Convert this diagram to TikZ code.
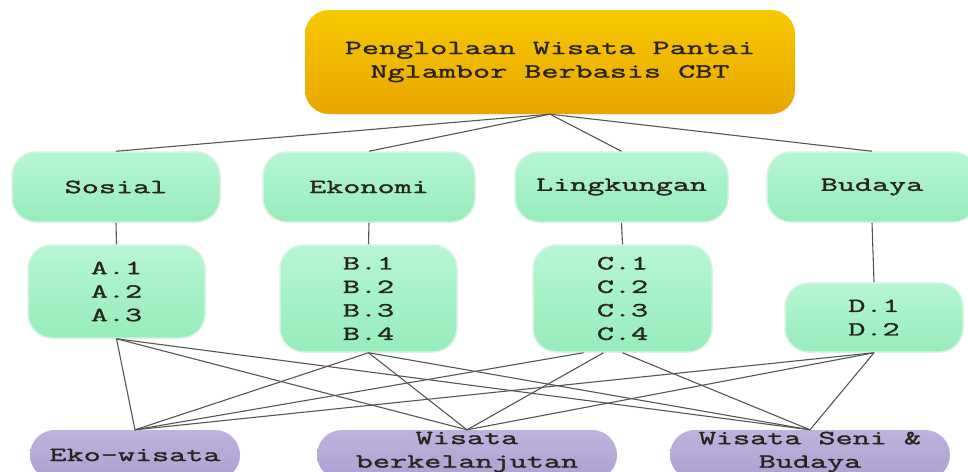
\documentclass[tikz,border=0pt]{standalone}
\usepackage{fontspec}
\newfontfamily\diagfont{Latin Modern Mono}[FakeStretch=1.66, FakeBold=1.6]
\definecolor{linegray}{RGB}{85,85,85}
\definecolor{txt}{RGB}{40,36,30}
\definecolor{orangetop}{RGB}{248,200,0}
\definecolor{orangebot}{RGB}{232,166,0}
\definecolor{greentop}{RGB}{182,246,210}
\definecolor{greenbot}{RGB}{150,236,186}
\definecolor{greenhalo}{RGB}{214,242,226}
\definecolor{purpletop}{RGB}{190,178,222}
\definecolor{purplebot}{RGB}{172,160,208}
\tikzset{
  box/.style={rectangle, rounded corners=24pt, inner sep=0pt, align=center,
    text=txt, font=\diagfont\fontsize{20}{23.5}\selectfont},
  titlebox/.style={box, top color=orangetop, bottom color=orangebot},
  aspect/.style={box, top color=greentop, bottom color=greenbot,
    draw=greenhalo, line width=1.5pt},
  goal/.style={box, rounded corners=25pt, top color=purpletop, bottom color=purplebot},
  link/.style={draw=linegray, line width=1.1pt}
}
\begin{document}
\begin{tikzpicture}[x=1pt,y=-1pt]
\useasboundingbox (0,0) rectangle (968,471);
\fill[white] (0,0) rectangle (968,471);
\clip (0,0) rectangle (968,471);

% top-level goal
\node[titlebox, minimum width=490pt, minimum height=104pt] (top) at (550,62)
  {Penglolaan Wisata Pantai\\Nglambor Berbasis CBT};

% four aspects
\node[aspect, minimum width=208pt, minimum height=70pt] (sos) at (116,187) {Sosial};
\node[aspect, minimum width=212pt, minimum height=70pt] (eko) at (369,187) {Ekonomi};
\node[aspect, minimum width=213pt, minimum height=70pt] (lin) at (621.5,187) {Lingkungan};
\node[aspect, minimum width=210pt, minimum height=70pt] (bud) at (872,187) {Budaya};

% indicators
\node[aspect, minimum width=177pt, minimum height=93pt] (ia) at (116.5,291.5) {A.1\\A.2\\A.3};
\node[aspect, minimum width=177pt, minimum height=107pt] (ib) at (368.5,298.5) {B.1\\B.2\\B.3\\B.4};
\node[aspect, minimum width=179pt, minimum height=107pt] (ic) at (622.5,298.5) {C.1\\C.2\\C.3\\C.4};
\node[aspect, minimum width=178pt, minimum height=69pt] (id) at (874,317.5) {D.1\\D.2};

% tourism types
\node[goal, minimum width=210pt, minimum height=50pt] (ew) at (135,455) {Eko-wisata};
\node[goal, minimum width=300pt, minimum height=50pt] (wb) at (467,455) {};
\node[goal, minimum width=280pt, minimum height=50pt] (ws) at (810,455) {};
\node[box] (wbt) at (467,452) {Wisata\\berkelanjutan};
\node[box] (wst) at (810,452) {Wisata Seni \&\\Budaya};

% goal to aspects
\foreach \n in {sos,eko,lin,bud}
  \draw[link] (top.south) -- (\n.north);

% aspects to indicators
\draw[link] (sos.south) -- (ia.north);
\draw[link] (eko.south) -- (ib.north);
\draw[link] (lin.south) -- (ic.north);
\draw[link] (bud.south) -- (id.north);

% indicators to tourism types
\foreach \g in {ew,wb,ws} {
  \draw[link] (ia.south) -- (\g.north);
  \draw[link] (ib.south) -- (\g.north);
  \draw[link] (id.south) -- (\g.north);
}
\draw[link] ([xshift=-39pt]ic.south) -- (ew.north);
\draw[link] ([xshift=-19pt]ic.south) -- (wb.north);
\draw[link] (ic.south) -- (ws.north);
\end{tikzpicture}
\end{document}
